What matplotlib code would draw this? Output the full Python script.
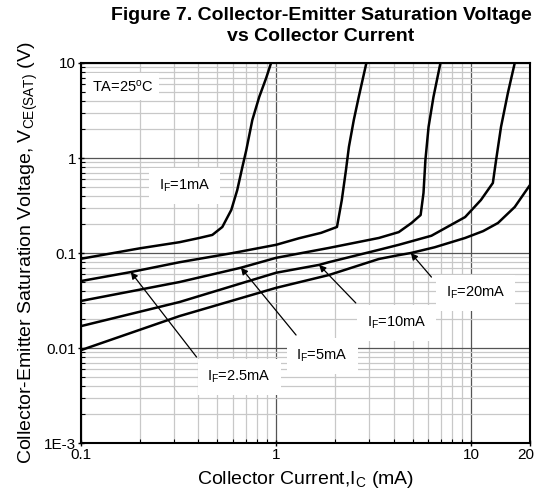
import numpy as np
import matplotlib
matplotlib.use("Agg")
from matplotlib import pyplot as plt
from matplotlib.ticker import LogLocator, NullFormatter, FixedLocator, FixedFormatter
from matplotlib.transforms import ScaledTranslation

plt.rcParams['font.family'] = ['Liberation Sans', 'DejaVu Sans']
plt.rcParams['mathtext.fontset'] = 'custom'
plt.rcParams['mathtext.rm'] = 'Liberation Sans'
plt.rcParams['mathtext.it'] = 'Liberation Sans'

# Collector current (mA) vs Vce(sat) (V)
ic_1ma = [0.1, 0.2, 0.32, 0.404, 0.471, 0.53, 0.589, 0.632, 0.671, 0.703, 0.755, 0.819, 0.889, 0.942]
vce_1ma = [0.087, 0.112, 0.13, 0.144, 0.155, 0.188, 0.284, 0.46, 0.80, 1.21, 2.51, 4.39, 6.95, 10]

ic_2p5ma = [0.1, 0.18, 0.32, 0.6, 1.0, 1.31, 1.7, 2.05, 2.17, 2.28, 2.36, 2.5, 2.65, 2.9]
vce_2p5ma = [0.0507, 0.063, 0.080, 0.10, 0.122, 0.143, 0.163, 0.188, 0.361, 0.75, 1.31, 2.51, 4.39, 10]

ic_5ma = [0.1, 0.32, 0.66, 1.0, 1.86, 3.36, 4.25, 4.94, 5.5, 5.69, 5.82, 6.04, 6.4, 6.95]
vce_5ma = [0.0313, 0.0495, 0.07, 0.089, 0.113, 0.144, 0.166, 0.207, 0.251, 0.428, 0.953, 2.12, 4.39, 10]

ic_10ma = [0.1, 0.32, 1.0, 1.66, 1.86, 3.36, 4.25, 6.25, 9.3, 11.2, 12.9, 13.4, 14.2, 15.4, 16.7]
vce_10ma = [0.017, 0.0305, 0.062, 0.075, 0.080, 0.108, 0.122, 0.152, 0.239, 0.361, 0.546, 0.95, 2.12, 4.83, 10]

ic_20ma = [0.1, 0.32, 1.0, 1.86, 3.36, 4.25, 4.9, 6.5, 9.3, 11.5, 13.7, 16.7, 19.5, 20]
vce_20ma = [0.0095, 0.0217, 0.043, 0.0586, 0.0865, 0.095, 0.1, 0.115, 0.144, 0.17, 0.207, 0.305, 0.483, 0.52]

labels = ["I$_\\mathregular{F}$=1mA", "I$_\\mathregular{F}$=2.5mA", "I$_\\mathregular{F}$=5mA",
          "I$_\\mathregular{F}$=10mA", "I$_\\mathregular{F}$=20mA"]
label_pos = [(0.34, 0.51), (0.647, 0.00495), (1.72, 0.00824), (4.14, 0.0183), (10.5, 0.038)]
arrow_tip_x = [None, 0.18, 0.66, 1.66, 4.9]
arrow_tail = [None, (0.391, 0.00804), (1.265, 0.0137), (2.56, 0.0298), (6.25, 0.0558)]

x_ticks = [0.1, 1, 10, 20]
x_ticklabels = ["0.1", "1", "10", "20"]
y_ticks = [0.001, 0.01, 0.1, 1, 10]
y_ticklabels = ["1E-3", "0.01", "0.1", "1", "10"]

curves = [(ic_1ma, vce_1ma), (ic_2p5ma, vce_2p5ma), (ic_5ma, vce_5ma),
          (ic_10ma, vce_10ma), (ic_20ma, vce_20ma)]

fig = plt.figure(figsize=(5.35, 4.98), dpi=100)
ax = fig.add_axes([0.1514, 0.1104, 0.8393, 0.7631])
ax.set_xscale('log')
ax.set_yscale('log')
ax.set_xlim(0.1, 20)
ax.set_ylim(0.001, 10)

ax.grid(True, which='major', color='#555555', linewidth=0.9)
ax.grid(True, which='minor', color='#c8c8c8', linewidth=0.9)
ax.set_axisbelow(True)

for x, y in curves:
    ax.plot(x, y, color='black', linewidth=1.8, zorder=3, solid_joinstyle='round')

box = dict(facecolor='white', edgecolor='none', pad=7)
for i, (x, y) in enumerate(curves):
    tx, ty = label_pos[i]
    ax.text(tx, ty, labels[i], fontsize=10.5, ha='center', va='center', bbox=box, zorder=4)
    if arrow_tip_x[i] is not None:
        tip_y = 10 ** np.interp(np.log10(arrow_tip_x[i]), np.log10(x), np.log10(y))
        ax.annotate("", xy=(arrow_tip_x[i], tip_y), xytext=arrow_tail[i],
                    arrowprops=dict(arrowstyle='-|>', color='black', lw=0.9,
                                    mutation_scale=10, shrinkA=0, shrinkB=0),
                    zorder=5)

ax.text(0.1138, 5.6, "TA=25$^\\mathregular{o}$C", fontsize=10.5, ha='left', va='center',
        bbox=dict(facecolor='white', edgecolor='none', pad=4), zorder=4)

ax.xaxis.set_major_locator(FixedLocator(x_ticks))
ax.xaxis.set_major_formatter(FixedFormatter(x_ticklabels))
ax.xaxis.set_minor_locator(LogLocator(base=10, subs=np.arange(2, 10)))
ax.xaxis.set_minor_formatter(NullFormatter())
ax.yaxis.set_major_locator(FixedLocator(y_ticks))
ax.yaxis.set_major_formatter(FixedFormatter(y_ticklabels))
ax.yaxis.set_minor_locator(LogLocator(base=10, subs=np.arange(2, 10)))
ax.yaxis.set_minor_formatter(NullFormatter())
ax.tick_params(which='major', direction='inout', length=5, width=1, labelsize=11, pad=1)
ax.tick_params(which='minor', direction='in', length=3, width=0.8)
for s in ax.spines.values():
    s.set_linewidth(1.5)

# nudge the "20" label so it stays inside the figure
last = ax.get_xticklabels()[-1]
last.set_transform(last.get_transform() + ScaledTranslation(-4 / 100, 0, fig.dpi_scale_trans))

ax.set_xlabel("Collector Current,I$_\\mathregular{C}$ (mA)", fontsize=14, labelpad=5)
ax.set_ylabel("Collector-Emitter Saturation Voltage, V$_\\mathregular{CE(SAT)}$ (V)", fontsize=14, labelpad=3)

fig.text(0.6, 0.985, "Figure 7. Collector-Emitter Saturation Voltage\nvs Collector Current",
         ha='center', va='top', fontsize=14, fontweight='bold', linespacing=1.3)

fig.savefig("out.png", dpi=100)
